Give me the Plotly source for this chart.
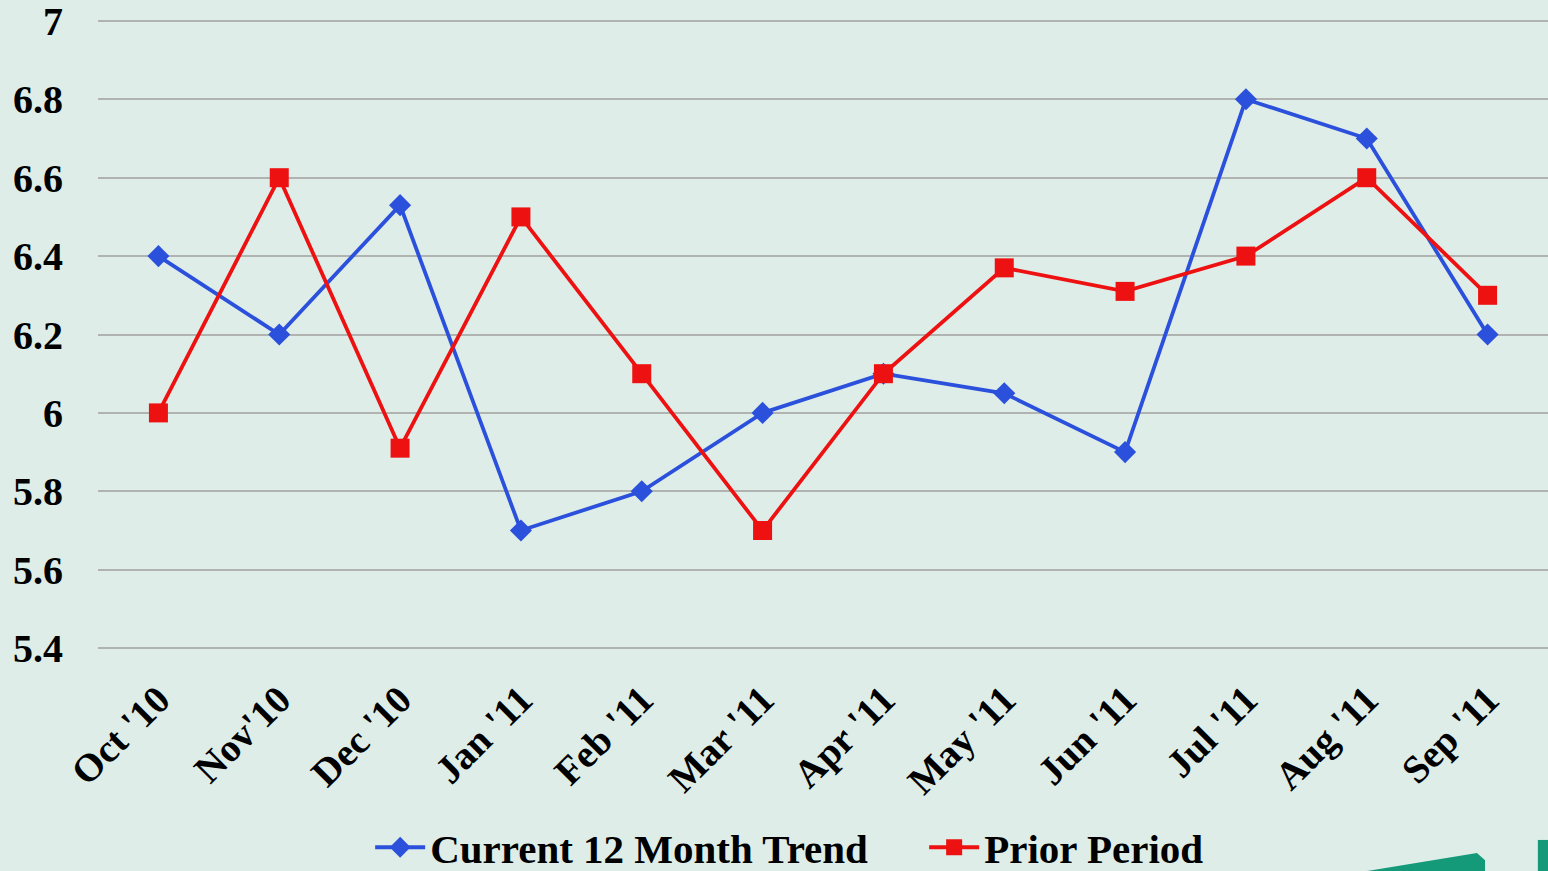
import plotly.graph_objects as go

# 月份标签
months = ["Oct '10", "Nov'10", "Dec '10", "Jan '11", "Feb '11", "Mar '11",
          "Apr '11", "May '11", "Jun '11", "Jul '11", "Aug '11", "Sep '11"]

# 两条折线的数值
current_trend = [6.4, 6.2, 6.53, 5.7, 5.8, 6.0, 6.1, 6.05, 5.9, 6.8, 6.7, 6.2]
prior_period = [6.0, 6.6, 5.91, 6.5, 6.1, 5.7, 6.1, 6.37, 6.31, 6.4, 6.6, 6.3]

y_ticks = [5.4, 5.6, 5.8, 6.0, 6.2, 6.4, 6.6, 6.8, 7.0]
y_labels = ["5.4", "5.6", "5.8", "6", "6.2", "6.4", "6.6", "6.8", "7"]

BG = "#deede8"
GREEN = "#159a79"
FONT = "Liberation Serif"

fig = go.Figure()

fig.add_trace(go.Scatter(
    x=months,
    y=current_trend,
    mode='lines+markers',
    name='Current 12 Month Trend' + '\u00a0' * 5,
    line=dict(color='#2b50dc', width=3.8),
    marker=dict(symbol='diamond', size=17, color='#2b50dc')
))

fig.add_trace(go.Scatter(
    x=months,
    y=prior_period,
    mode='lines+markers',
    name='Prior Period',
    line=dict(color='#ee1111', width=3.8),
    marker=dict(symbol='square', size=19, color='#ee1111')
))

# 右下角的绿色装饰块
fig.add_shape(
    type="path",
    xref="paper", yref="paper",
    path="M 0.875,-0.345 L 0.951,-0.3165 L 0.9566,-0.328 L 0.9566,-0.345 Z",
    fillcolor=GREEN,
    line=dict(width=0),
    layer="above"
)
fig.add_shape(
    type="path",
    xref="paper", yref="paper",
    path="M 0.993,-0.296 L 1.0,-0.296 L 1.0,-0.345 L 0.993,-0.345 Z",
    fillcolor=GREEN,
    line=dict(width=0),
    layer="above"
)

fig.update_layout(
    width=1548,
    height=871,
    paper_bgcolor=BG,
    plot_bgcolor=BG,
    margin=dict(l=98, r=0, t=17, b=219, autoexpand=False),
    font=dict(family=FONT, color='black', size=38, weight='bold'),
    xaxis=dict(
        type='category',
        range=[-0.5, 11.5],
        tickangle=-45,
        showgrid=False,
        showline=False,
        ticks='',
        automargin=False,
        ticklabelstandoff=16,
        tickfont=dict(family=FONT, size=39, weight='bold'),
    ),
    yaxis=dict(
        range=[5.39, 7.01],
        tickmode='array',
        tickvals=y_ticks,
        ticktext=y_labels,
        showgrid=True,
        gridcolor='#b0b3b0',
        gridwidth=2,
        zeroline=False,
        showline=False,
        ticks='',
        automargin=False,
        ticklabeloverflow='allow',
        ticklabelstandoff=34,
        tickfont=dict(family=FONT, size=40, weight='bold'),
    ),
    legend=dict(
        orientation='h',
        x=0.477,
        xanchor='center',
        y=-0.308,
        yanchor='middle',
        bgcolor='rgba(0,0,0,0)',
        font=dict(family=FONT, size=41, weight='bold'),
        itemwidth=50,
    ),
    showlegend=True
)

fig.write_html(
    "out.html",
    config={'displayModeBar': False},
    post_script="document.body.style.margin='0';document.body.style.background='#deede8';"
)
